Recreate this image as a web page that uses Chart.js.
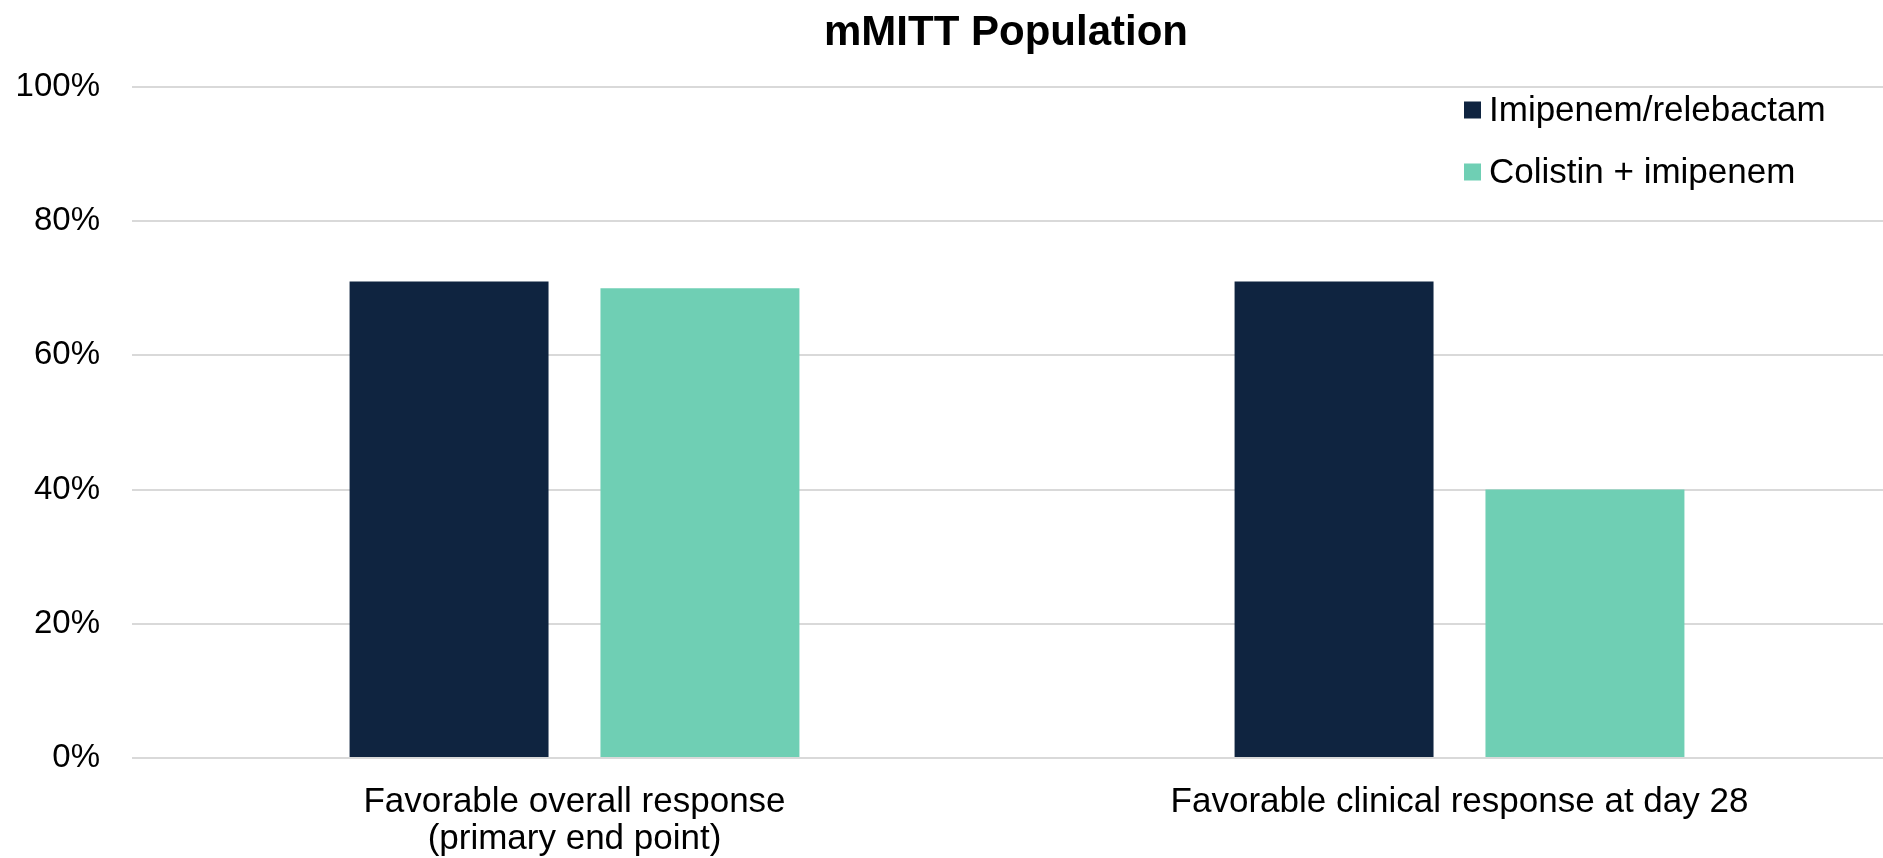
<!DOCTYPE html>
<html>
<head>
<meta charset="utf-8">
<title>mMITT Population</title>
<script src="https://cdn.jsdelivr.net/npm/chart.js@4.4.1/dist/chart.umd.min.js"></script>
<style>
  html, body { margin: 0; padding: 0; background: #ffffff; overflow: hidden; }
  #wrap { width: 1902px; height: 858px; position: relative; }
</style>
</head>
<body>
<div id="wrap"><canvas id="chart" width="1902" height="858"></canvas></div>
<script>
// Response rates (%) per end point
const categories = [
  ['Favorable overall response', '(primary end point)'],
  'Favorable clinical response at day 28'
];
const seriesNames = ['Imipenem/relebactam', 'Colistin + imipenem'];
const imipenemRelebactam = [71, 71];
const colistinImipenem = [70, 40];
const yTicks = [0, 20, 40, 60, 80, 100];

const COLORS = ['#0F2440', '#6FCFB4'];
const FONT = '"Liberation Sans", Arial, Helvetica, sans-serif';

// Title centred above the plot
const titlePlugin = {
  id: 'customTitle',
  afterDraw(chart) {
    const ctx = chart.ctx;
    ctx.save();
    ctx.font = 'bold 42px ' + FONT;
    ctx.fillStyle = '#000000';
    ctx.textAlign = 'center';
    ctx.textBaseline = 'middle';
    ctx.fillText('mMITT Population', 1006, 33);
    ctx.restore();
  }
};

// Legend stacked in the upper right of the plot
const legendPlugin = {
  id: 'customLegend',
  afterDraw(chart) {
    const ctx = chart.ctx;
    ctx.save();
    ctx.font = '35px ' + FONT;
    ctx.textBaseline = 'middle';
    ctx.textAlign = 'left';
    chart.data.datasets.forEach((ds, i) => {
      const cy = 110 + i * 62;
      ctx.fillStyle = ds.backgroundColor;
      ctx.fillRect(1464, cy - 8.5, 17, 17);
      ctx.fillStyle = '#000000';
      ctx.fillText(ds.label, 1489, cy + 1);
    });
    ctx.restore();
  }
};

new Chart(document.getElementById('chart'), {
  type: 'bar',
  data: {
    labels: categories,
    datasets: [
      { label: seriesNames[0], data: imipenemRelebactam, backgroundColor: COLORS[0] },
      { label: seriesNames[1], data: colistinImipenem, backgroundColor: COLORS[1] }
    ]
  },
  options: {
    responsive: false,
    devicePixelRatio: 1,
    animation: false,
    categoryPercentage: 0.567,
    barPercentage: 0.793,
    layout: { padding: { top: 87, right: 0, bottom: 0, left: 0 } },
    plugins: {
      legend: { display: false },
      title: { display: false },
      tooltip: { enabled: false }
    },
    scales: {
      x: {
        grid: { display: false, drawTicks: false },
        border: { display: false },
        ticks: {
          color: '#000000',
          font: { family: FONT, size: 35, lineHeight: 1.08 },
          padding: 25,
          maxRotation: 0,
          autoSkip: false
        },
        afterFit(scale) { scale.height = 100; }
      },
      y: {
        min: 0,
        max: 100,
        afterBuildTicks(scale) { scale.ticks = yTicks.map(v => ({ value: v })); },
        grid: { color: '#D9D9D9', lineWidth: 2, drawTicks: false },
        border: { display: false },
        ticks: {
          color: '#000000',
          font: { family: FONT, size: 33 },
          padding: 32,
          callback: v => v + '%'
        },
        afterFit(scale) { scale.width = 132; }
      }
    }
  },
  plugins: [titlePlugin, legendPlugin]
});
</script>
</body>
</html>
